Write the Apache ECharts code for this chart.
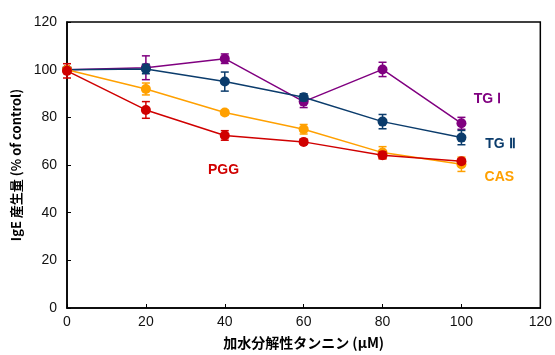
<!DOCTYPE html>
<html>
<head>
<meta charset="utf-8">
<script src="https://cdn.jsdelivr.net/npm/echarts@6/dist/echarts.min.js"></script>
<style>
html,body{margin:0;padding:0;background:#fff;}
#chart{width:555px;height:355px;}
</style>
</head>
<body>
<div id="chart"></div>
<script type="text/javascript">
// 濃度 (µM)
var conc = [0, 20, 40, 60, 80, 100];

// 各タンニンの IgE 産生量 (% of control) と誤差
var tg1 = [100, 100.8, 104.6, 86.6, 100.1, 77.5];
var tg1Err = [0, 5, 2, 2.5, 3, 2.5];
var tg2 = [100, 100.3, 95, 88.4, 78.2, 71.5];
var tg2Err = [0, 2, 4, 1.5, 3, 3];
var cas = [100, 91.9, 82, 75, 65.2, 60.3];
var casErr = [0, 2.5, 1, 2, 2.5, 3];
var pgg = [99.5, 83.1, 72.4, 69.7, 64.1, 61.6];
var pggErr = [3, 3.5, 2, 1, 1.5, 1];

var names = ['TG I', 'TG II', 'CAS', 'PGG'];
var labelText = ['TG Ⅰ', 'TG Ⅱ', 'CAS', 'PGG'];
var colors = ['#800080', '#0b3c6c', '#ffa000', '#d00000'];
var values = [tg1, tg2, cas, pgg];
var errors = [tg1Err, tg2Err, casErr, pggErr];
// ラベル位置 [x, y]（データ座標）
var labelPos = [[106.6, 87.8], [109.9, 68.9], [109.6, 55], [39.7, 57.8]];

var myChart = echarts.init(document.getElementById('chart'));

var series = [];
for (var i = 0; i < names.length; i++) {
	var pts = [], errData = [];
	for (var j = 0; j < conc.length; j++) {
		pts.push([conc[j], values[i][j]]);
		errData.push([conc[j], values[i][j] - errors[i][j], values[i][j] + errors[i][j]]);
	}
	// 誤差棒
	series.push({
		type: 'custom',
		name: names[i] + ' err',
		z: 3 + i * 2,
		data: errData,
		renderItem: (function (c) {
			return function (params, api) {
				var lo = api.coord([api.value(0), api.value(1)]);
				var hi = api.coord([api.value(0), api.value(2)]);
				var w = 4;
				var st = { stroke: c, lineWidth: 1.5 };
				return {
					type: 'group',
					children: [
						{ type: 'line', shape: { x1: lo[0], y1: lo[1], x2: hi[0], y2: hi[1] }, style: st },
						{ type: 'line', shape: { x1: lo[0] - w, y1: lo[1], x2: lo[0] + w, y2: lo[1] }, style: st },
						{ type: 'line', shape: { x1: hi[0] - w, y1: hi[1], x2: hi[0] + w, y2: hi[1] }, style: st }
					]
				};
			};
		})(colors[i])
	});
	series.push({
		type: 'line',
		name: names[i],
		z: 4 + i * 2,
		data: pts,
		symbol: 'circle',
		symbolSize: 10,
		lineStyle: { color: colors[i], width: 1.5 },
		itemStyle: { color: colors[i] },
		markPoint: {
			symbol: 'rect',
			symbolSize: 1,
			itemStyle: { color: 'transparent' },
			label: {
				show: true,
				formatter: labelText[i],
				color: colors[i],
				fontSize: 14,
				fontWeight: 'bold',
				fontFamily: 'Liberation Sans, Arial, sans-serif'
			},
			data: [{ coord: labelPos[i] }]
		}
	});
}

var option = {
	animation: false,
	backgroundColor: '#fff',
	grid: {
		left: 67,
		right: 14,
		top: 22,
		bottom: 47,
		show: true,
		borderColor: '#000',
		borderWidth: 1.5
	},
	xAxis: {
		type: 'value',
		min: 0,
		max: 120,
		interval: 20,
		name: '加水分解性タンニン (µM)',
		nameLocation: 'middle',
		nameGap: 28,
		nameTextStyle: { color: '#000', fontSize: 14, fontWeight: 'bold', fontFamily: 'Noto Sans CJK JP, sans-serif' },
		axisLine: { lineStyle: { color: '#000', width: 1.5 } },
		axisTick: { inside: true, length: 4, lineStyle: { color: '#000' } },
		axisLabel: { color: '#111', fontSize: 14, margin: 7, fontFamily: 'Liberation Sans, Arial, sans-serif' },
		splitLine: { show: false }
	},
	yAxis: {
		type: 'value',
		min: 0,
		max: 120,
		interval: 20,
		name: 'IgE 産生量 (% of control)',
		nameLocation: 'middle',
		nameGap: 41,
		nameTextStyle: { color: '#000', fontSize: 13, fontWeight: 'bold', fontFamily: 'Noto Sans CJK JP, sans-serif' },
		axisLine: { lineStyle: { color: '#000', width: 1.5 } },
		axisTick: { inside: true, length: 4, lineStyle: { color: '#000' } },
		axisLabel: { color: '#111', fontSize: 14, margin: 10, fontFamily: 'Liberation Sans, Arial, sans-serif' },
		splitLine: { show: false }
	},
	series: series
};
myChart.setOption(option);
</script>
</body>
</html>
